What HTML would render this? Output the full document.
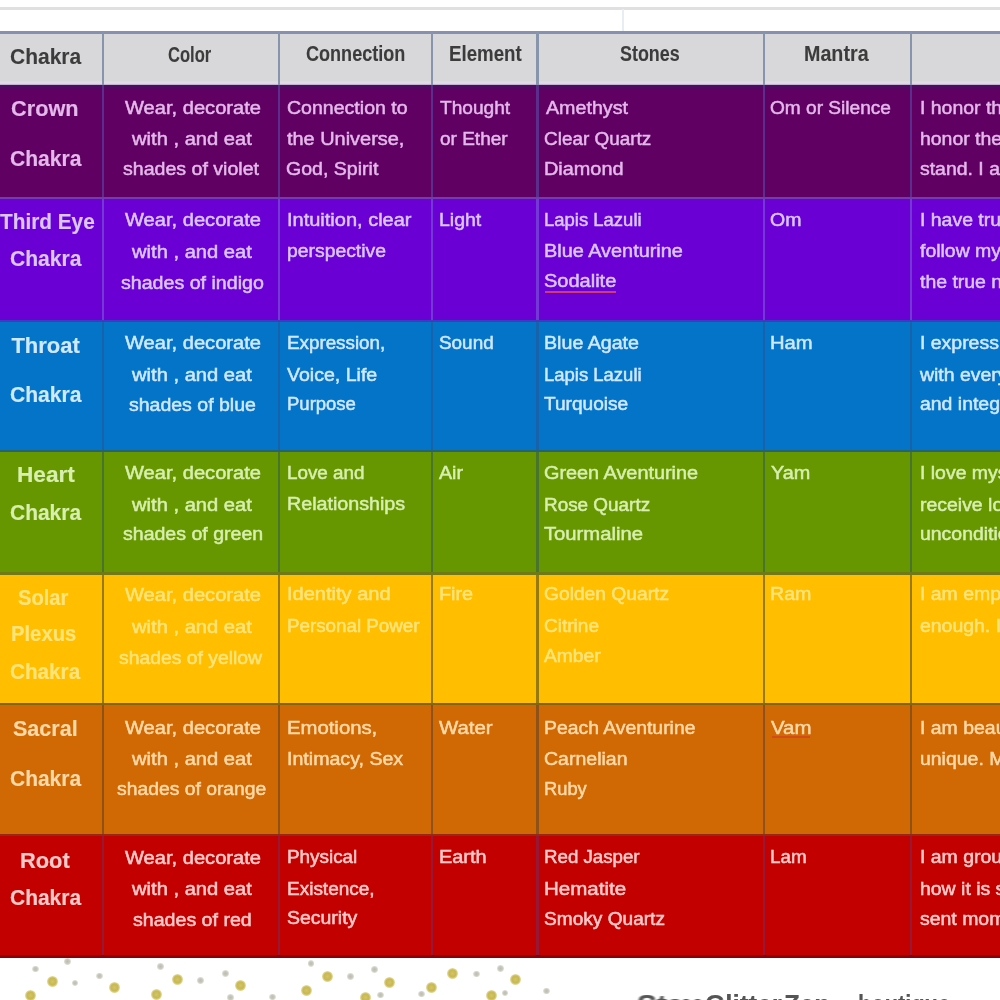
<!DOCTYPE html>
<html><head><meta charset="utf-8"><style>
html,body{margin:0;padding:0;width:1000px;height:1000px;overflow:hidden;background:#fff;}
body{position:relative;font-family:"Liberation Sans",sans-serif;}
.t{position:absolute;white-space:nowrap;line-height:0;transform-origin:0 0;-webkit-text-stroke:0.5px currentColor;filter:blur(0.7px);}
.b{-webkit-text-stroke:0.15px currentColor;}
.hd{-webkit-text-stroke:0.1px currentColor;filter:blur(0.65px);}
.b{font-weight:bold;}
.r{position:absolute;left:0;width:1000px;}
.v{position:absolute;width:3px;}
.h{position:absolute;left:0;width:1000px;}
.d{position:absolute;border-radius:50%;}
</style></head><body>

<div style="position:absolute;left:0;top:6.5px;width:1000px;height:3px;background:#e0e0e0"></div>
<div style="position:absolute;left:622px;top:9px;width:2px;height:23px;background:#e8edf3"></div>
<div class="r" style="top:31px;height:3.5px;background:#8790ae"></div>
<div class="r" style="top:34px;height:51px;background:#d8d8da"></div>
<div class="r" style="top:85.0px;height:113.0px;background:#600062"></div>
<div class="r" style="top:198.0px;height:123.0px;background:#6a00d4"></div>
<div class="r" style="top:321.0px;height:130.0px;background:#0474c8"></div>
<div class="r" style="top:451.0px;height:122.5px;background:#669600"></div>
<div class="r" style="top:573.5px;height:130.5px;background:#ffbe00"></div>
<div class="r" style="top:704.0px;height:131.0px;background:#d06804"></div>
<div class="r" style="top:835.0px;height:122.0px;background:#c20000"></div>
<div class="r" style="top:80.5px;height:4px;background:linear-gradient(#dcdae4,#e2dcea 60%,#b8a0c4)"></div>
<div class="r" style="top:84.5px;height:5px;background:linear-gradient(#4c0c64,#520862 60%,#600062)"></div>
<div class="v" style="left:101.75px;top:32px;height:53px;width:2.5px;background:#8894ac"></div>
<div class="v" style="left:101.75px;top:85.0px;height:113.0px;width:2.5px;background:rgb(92,46,140)"></div>
<div class="v" style="left:101.75px;top:198.0px;height:123.0px;width:2.5px;background:rgb(116,56,214)"></div>
<div class="v" style="left:101.75px;top:321.0px;height:130.0px;width:2.5px;background:rgb(24,98,172)"></div>
<div class="v" style="left:101.75px;top:451.0px;height:122.5px;width:2.5px;background:rgb(72,116,44)"></div>
<div class="v" style="left:101.75px;top:573.5px;height:130.5px;width:2.5px;background:rgb(150,122,16)"></div>
<div class="v" style="left:101.75px;top:704.0px;height:131.0px;width:2.5px;background:rgb(142,82,24)"></div>
<div class="v" style="left:101.75px;top:835.0px;height:122.0px;width:2.5px;background:rgb(150,24,52)"></div>
<div class="v" style="left:277.75px;top:32px;height:53px;width:2.5px;background:#8894ac"></div>
<div class="v" style="left:277.75px;top:85.0px;height:113.0px;width:2.5px;background:rgb(92,46,140)"></div>
<div class="v" style="left:277.75px;top:198.0px;height:123.0px;width:2.5px;background:rgb(116,56,214)"></div>
<div class="v" style="left:277.75px;top:321.0px;height:130.0px;width:2.5px;background:rgb(24,98,172)"></div>
<div class="v" style="left:277.75px;top:451.0px;height:122.5px;width:2.5px;background:rgb(72,116,44)"></div>
<div class="v" style="left:277.75px;top:573.5px;height:130.5px;width:2.5px;background:rgb(150,122,16)"></div>
<div class="v" style="left:277.75px;top:704.0px;height:131.0px;width:2.5px;background:rgb(142,82,24)"></div>
<div class="v" style="left:277.75px;top:835.0px;height:122.0px;width:2.5px;background:rgb(150,24,52)"></div>
<div class="v" style="left:430.75px;top:32px;height:53px;width:2.5px;background:#8894ac"></div>
<div class="v" style="left:430.75px;top:85.0px;height:113.0px;width:2.5px;background:rgb(92,46,140)"></div>
<div class="v" style="left:430.75px;top:198.0px;height:123.0px;width:2.5px;background:rgb(116,56,214)"></div>
<div class="v" style="left:430.75px;top:321.0px;height:130.0px;width:2.5px;background:rgb(24,98,172)"></div>
<div class="v" style="left:430.75px;top:451.0px;height:122.5px;width:2.5px;background:rgb(72,116,44)"></div>
<div class="v" style="left:430.75px;top:573.5px;height:130.5px;width:2.5px;background:rgb(150,122,16)"></div>
<div class="v" style="left:430.75px;top:704.0px;height:131.0px;width:2.5px;background:rgb(142,82,24)"></div>
<div class="v" style="left:430.75px;top:835.0px;height:122.0px;width:2.5px;background:rgb(150,24,52)"></div>
<div class="v" style="left:536.25px;top:32px;height:53px;width:2.5px;background:#8894ac"></div>
<div class="v" style="left:536.25px;top:85.0px;height:113.0px;width:2.5px;background:rgb(92,46,140)"></div>
<div class="v" style="left:536.25px;top:198.0px;height:123.0px;width:2.5px;background:rgb(116,56,214)"></div>
<div class="v" style="left:536.25px;top:321.0px;height:130.0px;width:2.5px;background:rgb(24,98,172)"></div>
<div class="v" style="left:536.25px;top:451.0px;height:122.5px;width:2.5px;background:rgb(72,116,44)"></div>
<div class="v" style="left:536.25px;top:573.5px;height:130.5px;width:2.5px;background:rgb(150,122,16)"></div>
<div class="v" style="left:536.25px;top:704.0px;height:131.0px;width:2.5px;background:rgb(142,82,24)"></div>
<div class="v" style="left:536.25px;top:835.0px;height:122.0px;width:2.5px;background:rgb(150,24,52)"></div>
<div class="v" style="left:762.75px;top:32px;height:53px;width:2.5px;background:#8894ac"></div>
<div class="v" style="left:762.75px;top:85.0px;height:113.0px;width:2.5px;background:rgb(92,46,140)"></div>
<div class="v" style="left:762.75px;top:198.0px;height:123.0px;width:2.5px;background:rgb(116,56,214)"></div>
<div class="v" style="left:762.75px;top:321.0px;height:130.0px;width:2.5px;background:rgb(24,98,172)"></div>
<div class="v" style="left:762.75px;top:451.0px;height:122.5px;width:2.5px;background:rgb(72,116,44)"></div>
<div class="v" style="left:762.75px;top:573.5px;height:130.5px;width:2.5px;background:rgb(150,122,16)"></div>
<div class="v" style="left:762.75px;top:704.0px;height:131.0px;width:2.5px;background:rgb(142,82,24)"></div>
<div class="v" style="left:762.75px;top:835.0px;height:122.0px;width:2.5px;background:rgb(150,24,52)"></div>
<div class="v" style="left:909.75px;top:32px;height:53px;width:2.5px;background:#8894ac"></div>
<div class="v" style="left:909.75px;top:85.0px;height:113.0px;width:2.5px;background:rgb(92,46,140)"></div>
<div class="v" style="left:909.75px;top:198.0px;height:123.0px;width:2.5px;background:rgb(116,56,214)"></div>
<div class="v" style="left:909.75px;top:321.0px;height:130.0px;width:2.5px;background:rgb(24,98,172)"></div>
<div class="v" style="left:909.75px;top:451.0px;height:122.5px;width:2.5px;background:rgb(72,116,44)"></div>
<div class="v" style="left:909.75px;top:573.5px;height:130.5px;width:2.5px;background:rgb(150,122,16)"></div>
<div class="v" style="left:909.75px;top:704.0px;height:131.0px;width:2.5px;background:rgb(142,82,24)"></div>
<div class="v" style="left:909.75px;top:835.0px;height:122.0px;width:2.5px;background:rgb(150,24,52)"></div>
<div class="h" style="top:196.75px;height:2.5px;background:rgb(112,60,176)"></div>
<div class="h" style="top:319.75px;height:2.5px;background:rgb(60,60,190)"></div>
<div class="h" style="top:449.75px;height:2.5px;background:rgb(40,100,110)"></div>
<div class="h" style="top:572.25px;height:2.5px;background:rgb(112,120,24)"></div>
<div class="h" style="top:702.75px;height:2.5px;background:rgb(130,100,24)"></div>
<div class="h" style="top:833.75px;height:2.5px;background:rgb(150,40,24)"></div>
<div class="h" style="top:955px;height:3px;background:#8a0008"></div>
<div class="t b hd" style="left:9.70px;top:57.48px;font-size:21.5px;color:#3c3c3c;transform:scaleX(0.9767)">Chakra</div>
<div class="t b hd" style="left:168.18px;top:54.68px;font-size:21.5px;color:#3c3c3c;transform:scaleX(0.7697)">Color</div>
<div class="t b hd" style="left:306.40px;top:54.48px;font-size:21.5px;color:#3c3c3c;transform:scaleX(0.8401)">Connection</div>
<div class="t b hd" style="left:448.70px;top:54.48px;font-size:21.5px;color:#3c3c3c;transform:scaleX(0.8696)">Element</div>
<div class="t b hd" style="left:620.22px;top:54.48px;font-size:21.5px;color:#3c3c3c;transform:scaleX(0.8326)">Stones</div>
<div class="t b hd" style="left:804.30px;top:54.48px;font-size:21.5px;color:#3c3c3c;transform:scaleX(0.9164)">Mantra</div>
<div class="t b" style="left:10.70px;top:109.30px;font-size:22px;color:#e4b8ea;transform:scaleX(0.9868)">Crown</div>
<div class="t b" style="left:9.70px;top:158.80px;font-size:22px;color:#e4b8ea;transform:scaleX(0.9586)">Chakra</div>
<div class="t" style="left:125.42px;top:107.70px;font-size:18px;color:#e4b8ea;transform:scaleX(1.1168)">Wear, decorate</div>
<div class="t" style="left:132.25px;top:138.90px;font-size:18px;color:#e4b8ea;transform:scaleX(1.1194)">with , and eat</div>
<div class="t" style="left:123.36px;top:169.30px;font-size:18px;color:#e4b8ea;transform:scaleX(1.0871)">shades of violet</div>
<div class="t" style="left:286.52px;top:107.70px;font-size:18px;color:#e4b8ea;transform:scaleX(1.0857)">Connection to</div>
<div class="t" style="left:287.42px;top:138.90px;font-size:18px;color:#e4b8ea;transform:scaleX(1.1065)">the Universe,</div>
<div class="t" style="left:286.30px;top:169.30px;font-size:18px;color:#e4b8ea;transform:scaleX(1.0864)">God, Spirit</div>
<div class="t" style="left:440.42px;top:107.70px;font-size:18px;color:#e4b8ea;transform:scaleX(1.0623)">Thought</div>
<div class="t" style="left:440.42px;top:138.90px;font-size:18px;color:#e4b8ea;transform:scaleX(1.0559)">or Ether</div>
<div class="t" style="left:545.64px;top:107.70px;font-size:18px;color:#e4b8ea;transform:scaleX(1.0925)">Amethyst</div>
<div class="t" style="left:544.24px;top:138.90px;font-size:18px;color:#e4b8ea;transform:scaleX(1.0516)">Clear Quartz</div>
<div class="t" style="left:544.24px;top:169.30px;font-size:18px;color:#e4b8ea;transform:scaleX(1.1036)">Diamond</div>
<div class="t" style="left:769.88px;top:107.70px;font-size:18px;color:#e4b8ea;transform:scaleX(1.0609)">Om or Silence</div>
<div class="t" style="left:919.50px;top:107.70px;font-size:18px;color:#e4b8ea;transform:scaleX(1.0800)">I honor the divine</div>
<div class="t" style="left:919.50px;top:138.90px;font-size:18px;color:#e4b8ea;transform:scaleX(1.0800)">honor the light</div>
<div class="t" style="left:919.50px;top:169.30px;font-size:18px;color:#e4b8ea;transform:scaleX(1.0800)">stand. I am</div>
<div class="t b" style="left:0.40px;top:222.30px;font-size:22px;color:#dcc6ff;transform:scaleX(0.9451)">Third Eye</div>
<div class="t b" style="left:9.70px;top:259.30px;font-size:22px;color:#dcc6ff;transform:scaleX(0.9586)">Chakra</div>
<div class="t" style="left:125.42px;top:220.10px;font-size:18px;color:#dcc6ff;transform:scaleX(1.1168)">Wear, decorate</div>
<div class="t" style="left:132.25px;top:251.70px;font-size:18px;color:#dcc6ff;transform:scaleX(1.1194)">with , and eat</div>
<div class="t" style="left:121.42px;top:282.50px;font-size:18px;color:#dcc6ff;transform:scaleX(1.0895)">shades of indigo</div>
<div class="t" style="left:287.24px;top:220.10px;font-size:18px;color:#dcc6ff;transform:scaleX(1.1112)">Intuition, clear</div>
<div class="t" style="left:287.24px;top:251.20px;font-size:18px;color:#dcc6ff;transform:scaleX(1.0746)">perspective</div>
<div class="t" style="left:438.70px;top:219.70px;font-size:18px;color:#dcc6ff;transform:scaleX(1.0831)">Light</div>
<div class="t" style="left:543.66px;top:219.70px;font-size:18px;color:#dcc6ff;transform:scaleX(1.0267)">Lapis Lazuli</div>
<div class="t" style="left:543.66px;top:251.20px;font-size:18px;color:#dcc6ff;transform:scaleX(1.1045)">Blue Aventurine</div>
<div class="t" style="left:543.66px;top:281.20px;font-size:18px;color:#dcc6ff;transform:scaleX(1.1111)">Sodalite</div>
<div class="t" style="left:769.88px;top:219.70px;font-size:18px;color:#dcc6ff;transform:scaleX(1.0828)">Om</div>
<div class="t" style="left:919.50px;top:219.70px;font-size:18px;color:#dcc6ff;transform:scaleX(1.0800)">I have true</div>
<div class="t" style="left:919.50px;top:251.20px;font-size:18px;color:#dcc6ff;transform:scaleX(1.0800)">follow my</div>
<div class="t" style="left:919.50px;top:281.70px;font-size:18px;color:#dcc6ff;transform:scaleX(1.0800)">the true n</div>
<div class="t b" style="left:11.40px;top:345.80px;font-size:22px;color:#cfe9ff;transform:scaleX(1.0000)">Throat</div>
<div class="t b" style="left:9.70px;top:394.80px;font-size:22px;color:#cfe9ff;transform:scaleX(0.9586)">Chakra</div>
<div class="t" style="left:125.42px;top:343.20px;font-size:18px;color:#cfe9ff;transform:scaleX(1.1168)">Wear, decorate</div>
<div class="t" style="left:132.25px;top:375.20px;font-size:18px;color:#cfe9ff;transform:scaleX(1.1194)">with , and eat</div>
<div class="t" style="left:128.64px;top:404.70px;font-size:18px;color:#cfe9ff;transform:scaleX(1.0832)">shades of blue</div>
<div class="t" style="left:286.52px;top:342.70px;font-size:18px;color:#cfe9ff;transform:scaleX(1.0440)">Expression,</div>
<div class="t" style="left:287.42px;top:375.10px;font-size:18px;color:#cfe9ff;transform:scaleX(1.0859)">Voice, Life</div>
<div class="t" style="left:286.52px;top:403.80px;font-size:18px;color:#cfe9ff;transform:scaleX(1.0278)">Purpose</div>
<div class="t" style="left:438.70px;top:342.70px;font-size:18px;color:#cfe9ff;transform:scaleX(1.0503)">Sound</div>
<div class="t" style="left:543.66px;top:342.70px;font-size:18px;color:#cfe9ff;transform:scaleX(1.0907)">Blue Agate</div>
<div class="t" style="left:543.66px;top:375.10px;font-size:18px;color:#cfe9ff;transform:scaleX(1.0267)">Lapis Lazuli</div>
<div class="t" style="left:544.36px;top:403.70px;font-size:18px;color:#cfe9ff;transform:scaleX(1.0610)">Turquoise</div>
<div class="t" style="left:769.88px;top:342.70px;font-size:18px;color:#cfe9ff;transform:scaleX(1.1232)">Ham</div>
<div class="t" style="left:919.50px;top:342.70px;font-size:18px;color:#cfe9ff;transform:scaleX(1.0800)">I express</div>
<div class="t" style="left:919.61px;top:375.10px;font-size:18px;color:#cfe9ff;transform:scaleX(1.0800)">with every</div>
<div class="t" style="left:919.50px;top:403.70px;font-size:18px;color:#cfe9ff;transform:scaleX(1.0800)">and integrity</div>
<div class="t b" style="left:16.70px;top:475.30px;font-size:22px;color:#d8efae;transform:scaleX(1.0285)">Heart</div>
<div class="t b" style="left:9.70px;top:512.80px;font-size:22px;color:#d8efae;transform:scaleX(0.9532)">Chakra</div>
<div class="t" style="left:125.42px;top:472.70px;font-size:18px;color:#d8efae;transform:scaleX(1.1168)">Wear, decorate</div>
<div class="t" style="left:132.25px;top:504.70px;font-size:18px;color:#d8efae;transform:scaleX(1.1194)">with , and eat</div>
<div class="t" style="left:122.58px;top:534.30px;font-size:18px;color:#d8efae;transform:scaleX(1.0854)">shades of green</div>
<div class="t" style="left:286.52px;top:472.70px;font-size:18px;color:#d8efae;transform:scaleX(1.0459)">Love and</div>
<div class="t" style="left:286.52px;top:503.90px;font-size:18px;color:#d8efae;transform:scaleX(1.0923)">Relationships</div>
<div class="t" style="left:439.40px;top:472.70px;font-size:18px;color:#d8efae;transform:scaleX(1.0909)">Air</div>
<div class="t" style="left:543.66px;top:472.70px;font-size:18px;color:#d8efae;transform:scaleX(1.1021)">Green Aventurine</div>
<div class="t" style="left:543.66px;top:504.70px;font-size:18px;color:#d8efae;transform:scaleX(1.0499)">Rose Quartz</div>
<div class="t" style="left:544.36px;top:533.70px;font-size:18px;color:#d8efae;transform:scaleX(1.1236)">Tourmaline</div>
<div class="t" style="left:770.58px;top:472.70px;font-size:18px;color:#d8efae;transform:scaleX(1.1020)">Yam</div>
<div class="t" style="left:919.50px;top:472.70px;font-size:18px;color:#d8efae;transform:scaleX(1.0800)">I love myself</div>
<div class="t" style="left:919.50px;top:504.70px;font-size:18px;color:#d8efae;transform:scaleX(1.0800)">receive love</div>
<div class="t" style="left:919.50px;top:534.30px;font-size:18px;color:#d8efae;transform:scaleX(1.0800)">unconditionally</div>
<div class="t b" style="left:17.65px;top:597.90px;font-size:22px;color:#ffe47a;transform:scaleX(0.9155)">Solar</div>
<div class="t b" style="left:10.84px;top:634.30px;font-size:22px;color:#ffe47a;transform:scaleX(0.9199)">Plexus</div>
<div class="t b" style="left:9.66px;top:671.70px;font-size:22px;color:#ffe47a;transform:scaleX(0.9404)">Chakra</div>
<div class="t" style="left:125.42px;top:595.30px;font-size:18px;color:#ffe47a;transform:scaleX(1.1168)">Wear, decorate</div>
<div class="t" style="left:132.25px;top:627.30px;font-size:18px;color:#ffe47a;transform:scaleX(1.1194)">with , and eat</div>
<div class="t" style="left:119.36px;top:657.70px;font-size:18px;color:#ffe47a;transform:scaleX(1.0752)">shades of yellow</div>
<div class="t" style="left:286.52px;top:593.90px;font-size:18px;color:#ffe47a;transform:scaleX(1.1132)">Identity and</div>
<div class="t" style="left:286.52px;top:626.20px;font-size:18px;color:#ffe47a;transform:scaleX(1.0423)">Personal Power</div>
<div class="t" style="left:438.70px;top:593.90px;font-size:18px;color:#ffe47a;transform:scaleX(1.0994)">Fire</div>
<div class="t" style="left:543.66px;top:593.90px;font-size:18px;color:#ffe47a;transform:scaleX(1.0678)">Golden Quartz</div>
<div class="t" style="left:543.66px;top:626.20px;font-size:18px;color:#ffe47a;transform:scaleX(1.0565)">Citrine</div>
<div class="t" style="left:544.36px;top:656.20px;font-size:18px;color:#ffe47a;transform:scaleX(1.0687)">Amber</div>
<div class="t" style="left:769.88px;top:593.90px;font-size:18px;color:#ffe47a;transform:scaleX(1.0911)">Ram</div>
<div class="t" style="left:919.50px;top:593.90px;font-size:18px;color:#ffe47a;transform:scaleX(1.0800)">I am empowered</div>
<div class="t" style="left:919.50px;top:626.20px;font-size:18px;color:#ffe47a;transform:scaleX(1.0800)">enough. I</div>
<div class="t b" style="left:13.24px;top:728.55px;font-size:22px;color:#ffdaa8;transform:scaleX(0.9788)">Sacral</div>
<div class="t b" style="left:9.66px;top:778.55px;font-size:22px;color:#ffdaa8;transform:scaleX(0.9531)">Chakra</div>
<div class="t" style="left:125.42px;top:727.50px;font-size:18px;color:#ffdaa8;transform:scaleX(1.1168)">Wear, decorate</div>
<div class="t" style="left:132.25px;top:758.70px;font-size:18px;color:#ffdaa8;transform:scaleX(1.1194)">with , and eat</div>
<div class="t" style="left:117.42px;top:789.10px;font-size:18px;color:#ffdaa8;transform:scaleX(1.0732)">shades of orange</div>
<div class="t" style="left:286.52px;top:727.50px;font-size:18px;color:#ffdaa8;transform:scaleX(1.1275)">Emotions,</div>
<div class="t" style="left:286.52px;top:758.70px;font-size:18px;color:#ffdaa8;transform:scaleX(1.0887)">Intimacy, Sex</div>
<div class="t" style="left:439.40px;top:727.50px;font-size:18px;color:#ffdaa8;transform:scaleX(1.1319)">Water</div>
<div class="t" style="left:543.66px;top:727.50px;font-size:18px;color:#ffdaa8;transform:scaleX(1.0756)">Peach Aventurine</div>
<div class="t" style="left:543.66px;top:758.70px;font-size:18px;color:#ffdaa8;transform:scaleX(1.0844)">Carnelian</div>
<div class="t" style="left:543.66px;top:788.70px;font-size:18px;color:#ffdaa8;transform:scaleX(1.0167)">Ruby</div>
<div class="t" style="left:770.58px;top:727.50px;font-size:18px;color:#ffdaa8;transform:scaleX(1.1361)">Vam</div>
<div class="t" style="left:919.50px;top:727.50px;font-size:18px;color:#ffdaa8;transform:scaleX(1.0800)">I am beautiful</div>
<div class="t" style="left:919.50px;top:758.70px;font-size:18px;color:#ffdaa8;transform:scaleX(1.0800)">unique. My</div>
<div class="t b" style="left:20.30px;top:861.30px;font-size:22px;color:#ffcaca;transform:scaleX(0.9920)">Root</div>
<div class="t b" style="left:9.70px;top:897.80px;font-size:22px;color:#ffcaca;transform:scaleX(0.9532)">Chakra</div>
<div class="t" style="left:125.42px;top:858.10px;font-size:18px;color:#ffcaca;transform:scaleX(1.1168)">Wear, decorate</div>
<div class="t" style="left:132.25px;top:889.30px;font-size:18px;color:#ffcaca;transform:scaleX(1.1194)">with , and eat</div>
<div class="t" style="left:133.42px;top:919.70px;font-size:18px;color:#ffcaca;transform:scaleX(1.0885)">shades of red</div>
<div class="t" style="left:286.52px;top:856.90px;font-size:18px;color:#ffcaca;transform:scaleX(1.0490)">Physical</div>
<div class="t" style="left:286.52px;top:889.30px;font-size:18px;color:#ffcaca;transform:scaleX(1.0549)">Existence,</div>
<div class="t" style="left:286.52px;top:918.00px;font-size:18px;color:#ffcaca;transform:scaleX(1.0815)">Security</div>
<div class="t" style="left:438.70px;top:856.90px;font-size:18px;color:#ffcaca;transform:scaleX(1.1047)">Earth</div>
<div class="t" style="left:543.66px;top:856.90px;font-size:18px;color:#ffcaca;transform:scaleX(1.0383)">Red Jasper</div>
<div class="t" style="left:543.66px;top:889.30px;font-size:18px;color:#ffcaca;transform:scaleX(1.1394)">Hematite</div>
<div class="t" style="left:543.66px;top:919.20px;font-size:18px;color:#ffcaca;transform:scaleX(1.0609)">Smoky Quartz</div>
<div class="t" style="left:769.88px;top:856.90px;font-size:18px;color:#ffcaca;transform:scaleX(1.0480)">Lam</div>
<div class="t" style="left:919.50px;top:856.90px;font-size:18px;color:#ffcaca;transform:scaleX(1.0800)">I am grounded</div>
<div class="t" style="left:919.50px;top:889.30px;font-size:18px;color:#ffcaca;transform:scaleX(1.0800)">how it is so</div>
<div class="t" style="left:919.50px;top:918.70px;font-size:18px;color:#ffcaca;transform:scaleX(1.0800)">sent moment</div>
<div style="position:absolute;left:545px;top:291px;width:71px;height:1.5px;background:#d03c70"></div>
<div style="position:absolute;left:772px;top:736px;width:38px;height:1.5px;background:rgba(215,40,50,0.45)"></div>
<div class="d" style="left:47.0px;top:976.1px;width:11.0px;height:11.0px;background:radial-gradient(circle,#d2c46a 0,#c8b850 45%,rgba(215,200,110,0.6) 70%,rgba(255,255,255,0) 100%)"></div>
<div class="d" style="left:25.3px;top:990.1px;width:11.0px;height:11.0px;background:radial-gradient(circle,#d2c46a 0,#c8b850 45%,rgba(215,200,110,0.6) 70%,rgba(255,255,255,0) 100%)"></div>
<div class="d" style="left:32.3px;top:965.6px;width:6.8px;height:6.8px;background:radial-gradient(circle,#bcbcb0 0,#c8c8bc 40%,rgba(225,225,215,0) 100%)"></div>
<div class="d" style="left:63.8px;top:957.9px;width:6.8px;height:6.8px;background:radial-gradient(circle,#bcbcb0 0,#c8c8bc 40%,rgba(225,225,215,0) 100%)"></div>
<div class="d" style="left:71.6px;top:979.6px;width:6.8px;height:6.8px;background:radial-gradient(circle,#bcbcb0 0,#c8c8bc 40%,rgba(225,225,215,0) 100%)"></div>
<div class="d" style="left:96.0px;top:972.6px;width:6.8px;height:6.8px;background:radial-gradient(circle,#bcbcb0 0,#c8c8bc 40%,rgba(225,225,215,0) 100%)"></div>
<div class="d" style="left:109.3px;top:982.4px;width:11.0px;height:11.0px;background:radial-gradient(circle,#d2c46a 0,#c8b850 45%,rgba(215,200,110,0.6) 70%,rgba(255,255,255,0) 100%)"></div>
<div class="d" style="left:157.4px;top:962.8px;width:6.8px;height:6.8px;background:radial-gradient(circle,#bcbcb0 0,#c8c8bc 40%,rgba(225,225,215,0) 100%)"></div>
<div class="d" style="left:172.1px;top:974.0px;width:11.0px;height:11.0px;background:radial-gradient(circle,#d2c46a 0,#c8b850 45%,rgba(215,200,110,0.6) 70%,rgba(255,255,255,0) 100%)"></div>
<div class="d" style="left:197.3px;top:976.8px;width:6.8px;height:6.8px;background:radial-gradient(circle,#bcbcb0 0,#c8c8bc 40%,rgba(225,225,215,0) 100%)"></div>
<div class="d" style="left:221.8px;top:969.8px;width:6.8px;height:6.8px;background:radial-gradient(circle,#bcbcb0 0,#c8c8bc 40%,rgba(225,225,215,0) 100%)"></div>
<div class="d" style="left:234.5px;top:980.3px;width:11.0px;height:11.0px;background:radial-gradient(circle,#d2c46a 0,#c8b850 45%,rgba(215,200,110,0.6) 70%,rgba(255,255,255,0) 100%)"></div>
<div class="d" style="left:151.1px;top:988.7px;width:11.0px;height:11.0px;background:radial-gradient(circle,#d2c46a 0,#c8b850 45%,rgba(215,200,110,0.6) 70%,rgba(255,255,255,0) 100%)"></div>
<div class="d" style="left:227.4px;top:994.3px;width:6.8px;height:6.8px;background:radial-gradient(circle,#bcbcb0 0,#c8c8bc 40%,rgba(225,225,215,0) 100%)"></div>
<div class="d" style="left:307.7px;top:960.0px;width:6.8px;height:6.8px;background:radial-gradient(circle,#bcbcb0 0,#c8c8bc 40%,rgba(225,225,215,0) 100%)"></div>
<div class="d" style="left:321.7px;top:970.5px;width:11.0px;height:11.0px;background:radial-gradient(circle,#d2c46a 0,#c8b850 45%,rgba(215,200,110,0.6) 70%,rgba(255,255,255,0) 100%)"></div>
<div class="d" style="left:346.9px;top:973.3px;width:6.8px;height:6.8px;background:radial-gradient(circle,#bcbcb0 0,#c8c8bc 40%,rgba(225,225,215,0) 100%)"></div>
<div class="d" style="left:371.4px;top:966.3px;width:6.8px;height:6.8px;background:radial-gradient(circle,#bcbcb0 0,#c8c8bc 40%,rgba(225,225,215,0) 100%)"></div>
<div class="d" style="left:384.1px;top:976.8px;width:11.0px;height:11.0px;background:radial-gradient(circle,#d2c46a 0,#c8b850 45%,rgba(215,200,110,0.6) 70%,rgba(255,255,255,0) 100%)"></div>
<div class="d" style="left:300.7px;top:984.5px;width:11.0px;height:11.0px;background:radial-gradient(circle,#d2c46a 0,#c8b850 45%,rgba(215,200,110,0.6) 70%,rgba(255,255,255,0) 100%)"></div>
<div class="d" style="left:359.5px;top:992.2px;width:11.0px;height:11.0px;background:radial-gradient(circle,#d2c46a 0,#c8b850 45%,rgba(215,200,110,0.6) 70%,rgba(255,255,255,0) 100%)"></div>
<div class="d" style="left:377.0px;top:991.6px;width:6.8px;height:6.8px;background:radial-gradient(circle,#bcbcb0 0,#c8c8bc 40%,rgba(225,225,215,0) 100%)"></div>
<div class="d" style="left:269.2px;top:993.6px;width:6.8px;height:6.8px;background:radial-gradient(circle,#bcbcb0 0,#c8c8bc 40%,rgba(225,225,215,0) 100%)"></div>
<div class="d" style="left:447.2px;top:967.5px;width:11.0px;height:11.0px;background:radial-gradient(circle,#d2c46a 0,#c8b850 45%,rgba(215,200,110,0.6) 70%,rgba(255,255,255,0) 100%)"></div>
<div class="d" style="left:473.1px;top:970.6px;width:6.8px;height:6.8px;background:radial-gradient(circle,#bcbcb0 0,#c8c8bc 40%,rgba(225,225,215,0) 100%)"></div>
<div class="d" style="left:496.9px;top:964.9px;width:6.8px;height:6.8px;background:radial-gradient(circle,#bcbcb0 0,#c8c8bc 40%,rgba(225,225,215,0) 100%)"></div>
<div class="d" style="left:510.0px;top:974.2px;width:11.0px;height:11.0px;background:radial-gradient(circle,#d2c46a 0,#c8b850 45%,rgba(215,200,110,0.6) 70%,rgba(255,255,255,0) 100%)"></div>
<div class="d" style="left:426.3px;top:981.8px;width:11.0px;height:11.0px;background:radial-gradient(circle,#d2c46a 0,#c8b850 45%,rgba(215,200,110,0.6) 70%,rgba(255,255,255,0) 100%)"></div>
<div class="d" style="left:418.0px;top:990.6px;width:6.8px;height:6.8px;background:radial-gradient(circle,#bcbcb0 0,#c8c8bc 40%,rgba(225,225,215,0) 100%)"></div>
<div class="d" style="left:486.2px;top:990.4px;width:11.0px;height:11.0px;background:radial-gradient(circle,#d2c46a 0,#c8b850 45%,rgba(215,200,110,0.6) 70%,rgba(255,255,255,0) 100%)"></div>
<div class="d" style="left:501.6px;top:989.6px;width:6.8px;height:6.8px;background:radial-gradient(circle,#bcbcb0 0,#c8c8bc 40%,rgba(225,225,215,0) 100%)"></div>
<div class="d" style="left:543.4px;top:987.7px;width:6.8px;height:6.8px;background:radial-gradient(circle,#bcbcb0 0,#c8c8bc 40%,rgba(225,225,215,0) 100%)"></div>
<div class="t b" style="left:637.00px;top:1004px;font-size:26px;color:#555;transform:scaleX(1.1475)">Stay</div>
<div class="t b" style="left:705.00px;top:1004px;font-size:26px;color:#555;transform:scaleX(1.0052)">Glitter</div>
<div class="t b" style="left:784.00px;top:1004px;font-size:26px;color:#555;transform:scaleX(0.9957)">Zen</div>
<div class="t b" style="left:858.00px;top:1004px;font-size:26px;color:#555;transform:scaleX(0.8387)">boutique</div>
</body></html>
